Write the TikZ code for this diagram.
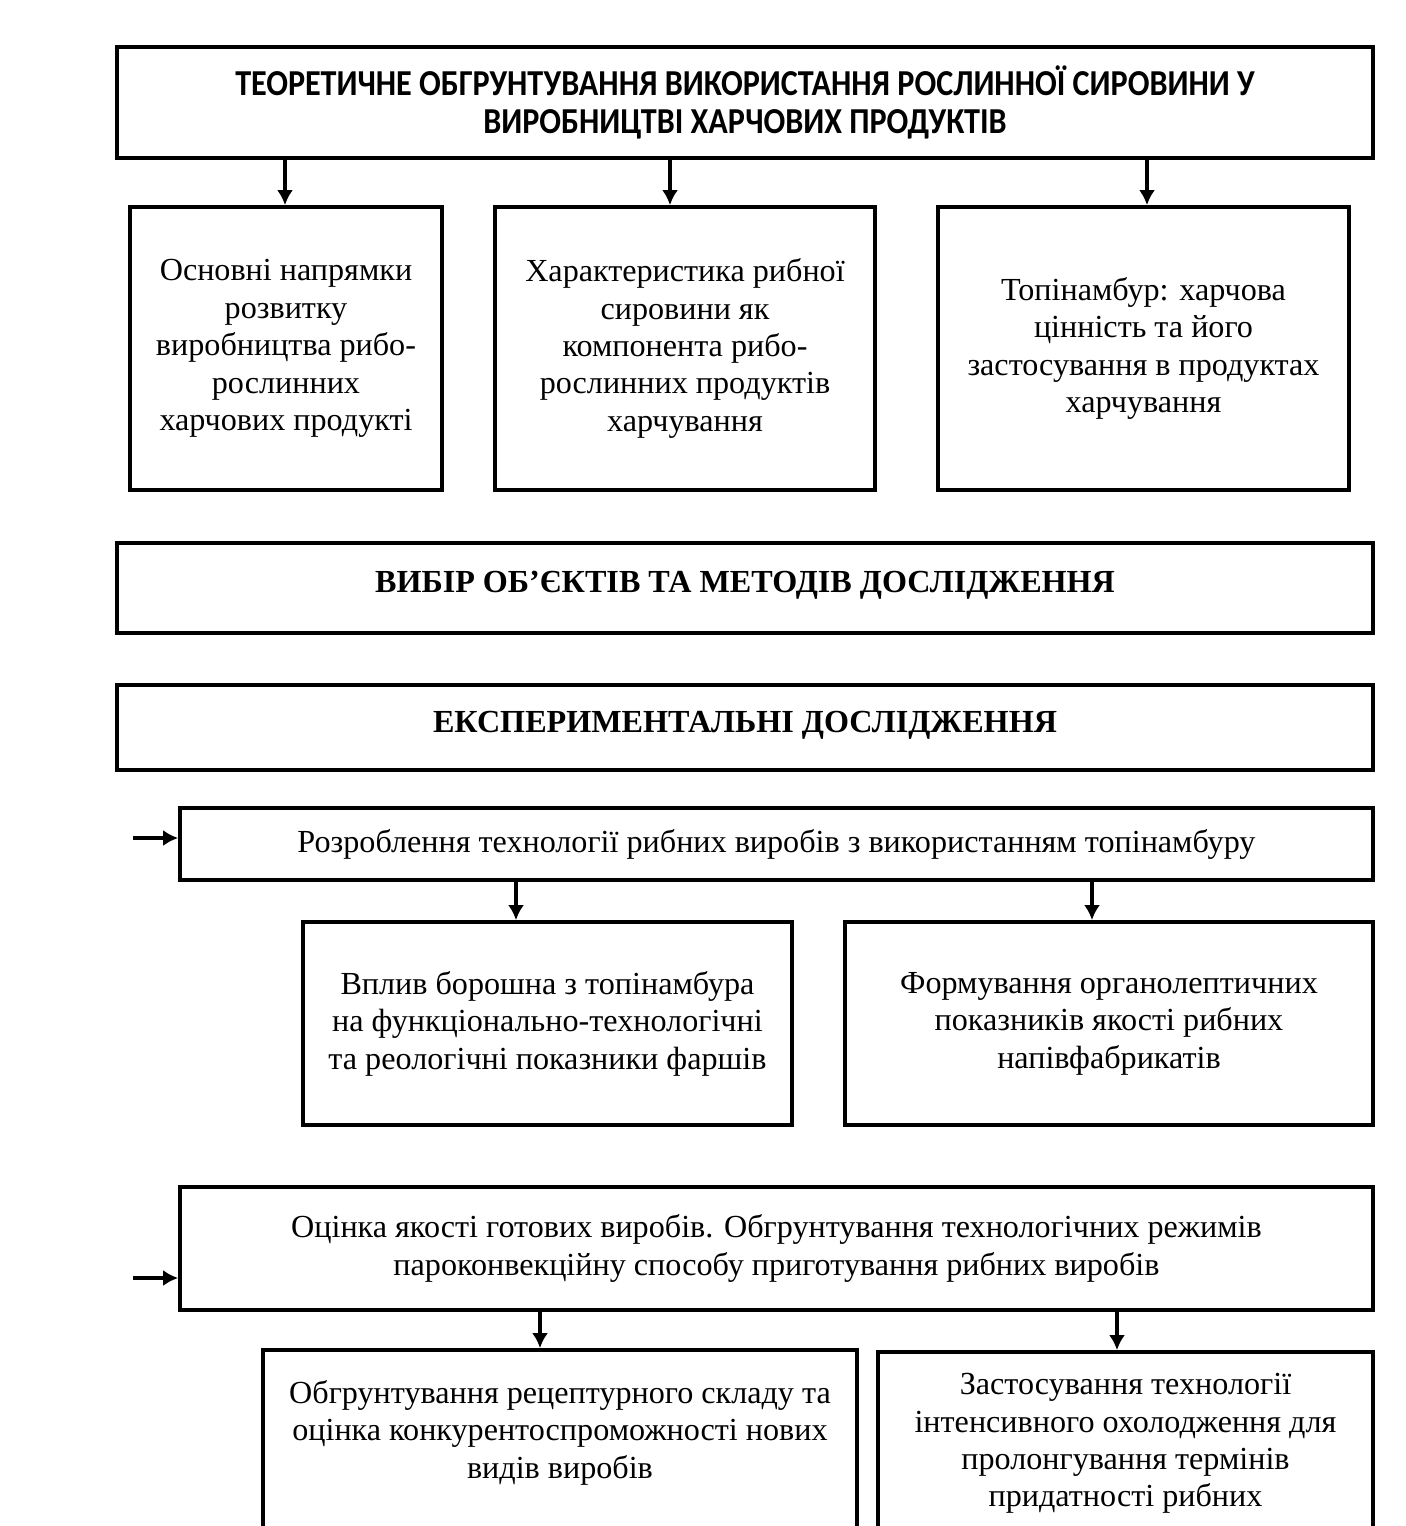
\documentclass[tikz,border=0pt]{standalone}
\usepackage{fontspec}
\setmainfont{Liberation Serif}
\newfontfamily\headfont[FakeStretch=0.88]{Carlito Bold}
\newfontfamily\capsfont{Liberation Serif Bold}
\usetikzlibrary{arrows.meta}
\tikzset{
  box/.style={draw, line width=2.2pt, shape=rectangle, align=center, inner sep=0pt},
  arr/.style={line width=2.2pt, -{Latex[length=0.3cm,width=0.32cm]}},
  body/.style={font=\fontsize{18.3}{21.3}\selectfont},
  heading/.style={font=\capsfont\fontsize{18.3}{21}\selectfont, text height=0.45cm, text depth=0.27cm}
}
\begin{document}
\begin{tikzpicture}[x=0.02cm, y=-0.02cm]
    \useasboundingbox (0,0) rectangle (1406,1526);
    \clip (0,0) rectangle (1406,1526);
    \def\rowh{5.66cm}
    % top block
    \node[box, minimum width=25.12cm, minimum height=2.22cm, font=\headfont\fontsize{20.8}{21.6}\selectfont] (theory) at (745,102.5)
        {ТЕОРЕТИЧНЕ ОБГРУНТУВАННЯ ВИКОРИСТАННЯ РОСЛИННОЇ СИРОВИНИ У\\ВИРОБНИЦТВІ ХАРЧОВИХ ПРОДУКТІВ};
    \node[box, body, minimum width=6.24cm, minimum height=\rowh] (trends) at (286,348.5)
        {Основні напрямки\\розвитку\\виробництва рибо-\\рослинних\\харчових продукті};
    \node[box, body, minimum width=7.6cm, minimum height=\rowh] (fish) at (685,348.5)
        {Характеристика рибної\\сировини як\\компонента рибо-\\рослинних продуктів\\харчування};
    \node[box, body, minimum width=8.22cm, minimum height=\rowh] (topi) at (1143.5,348.5)
        {Топінамбур: харчова\\цінність та його\\застосування в продуктах\\харчування};
    \draw[arr] ([xshift=-0.02cm]trends.north |- theory.south) -- ([xshift=-0.02cm]trends.north);
    \draw[arr] ([xshift=-0.3cm]fish.north |- theory.south) -- ([xshift=-0.3cm]fish.north);
    \draw[arr] ([xshift=0.07cm]topi.north |- theory.south) -- ([xshift=0.07cm]topi.north);
    % headings
    \node[box, heading, minimum width=25.12cm, minimum height=1.8cm] (choice) at (745,588)
        {ВИБІР ОБ’ЄКТІВ ТА МЕТОДІВ ДОСЛІДЖЕННЯ};
    \node[box, heading, minimum width=25.12cm, minimum height=1.7cm] (exper) at (745,727.5)
        {ЕКСПЕРИМЕНТАЛЬНІ ДОСЛІДЖЕННЯ};
    % development
    \node[box, body, minimum width=23.86cm, minimum height=1.44cm] (devel) at (776.5,844)
        {Розроблення технології рибних виробів з використанням топінамбуру};
    \node[box, body, minimum width=9.78cm, minimum height=4.06cm] (flour) at (547.5,1023.5)
        {Вплив борошна з топінамбура\\на функціонально-технологічні\\та реологічні показники фаршів};
    \node[box, body, minimum width=10.56cm, minimum height=4.06cm] (organ) at (1109,1023.5)
        {Формування органолептичних\\показників якості рибних\\напівфабрикатів};
    \coordinate (devin) at (133,838);
    \draw[arr] (devin) -- (devel.west |- devin);
    \draw[arr] ([xshift=-0.63cm]flour.north |- devel.south) -- ([xshift=-0.63cm]flour.north);
    \draw[arr] ([xshift=-0.34cm]organ.north |- devel.south) -- ([xshift=-0.34cm]organ.north);
    % evaluation
    \node[box, body, minimum width=23.86cm, minimum height=2.46cm] (evalq) at (776.5,1248.5)
        {Оцінка якості готових виробів. Обгрунтування технологічних режимів\\пароконвекційну способу приготування рибних виробів};
    \node[box, minimum width=11.88cm, minimum height=5cm] (recipe) at (560,1475) {};
    \node[box, minimum width=9.9cm, minimum height=4.96cm] (cool) at (1125.5,1476) {};
    \node[body, align=center, anchor=north] (recipetxt) at ([yshift=-0.52cm]recipe.north)
        {Обгрунтування рецептурного складу та\\оцінка конкурентоспроможності нових\\видів виробів};
    \node[body, align=center, anchor=north] (cooltxt) at ([yshift=-0.34cm]cool.north)
        {Застосування технології\\інтенсивного охолодження для\\пролонгування термінів\\придатності рибних};
    \coordinate (evalin) at (133,1278);
    \draw[arr] (evalin) -- (evalq.west |- evalin);
    \draw[arr] ([xshift=-0.4cm]recipe.north |- evalq.south) -- ([xshift=-0.4cm]recipe.north);
    \draw[arr] ([xshift=-0.17cm]cool.north |- evalq.south) -- ([xshift=-0.17cm]cool.north);
\end{tikzpicture}
\end{document}
